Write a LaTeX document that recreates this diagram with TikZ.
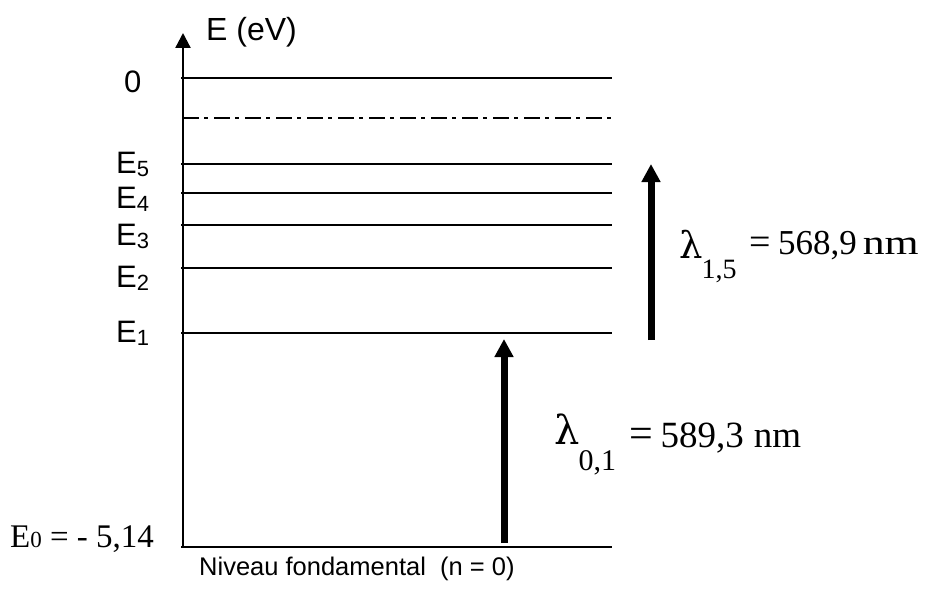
\documentclass[tikz,border=0pt]{standalone}
\usepackage{fontspec}
\setmainfont{Liberation Serif}
\newfontfamily\arialf{Liberation Sans}
\newfontfamily\lamf{DejaVu Serif}
\usetikzlibrary{arrows.meta}
\tikzset{
  level/.style={line width=2pt},
  axisline/.style={line width=2.3pt, -{Triangle[width=15pt,length=15pt]}},
  photon/.style={line width=7pt, -{Triangle[width=18pt,length=18pt]}},
  lbl/.style={anchor=base west, inner sep=0pt, font=\arialf\fontsize{31}{31}\selectfont},
  serif/.style={anchor=base west, inner sep=0pt},
}
\newcommand{\esub}[1]{\raisebox{-3pt}{\fontsize{22}{22}\selectfont #1}}
\begin{document}
\begin{tikzpicture}[x=1pt,y=-1pt]
\useasboundingbox (0,0) rectangle (926,599);
% axis
\coordinate (ax0) at (183,547);
\coordinate (ax1) at (183,33);
\draw[axisline] (ax0) -- (ax1);
% levels
\foreach \yy/\nm in {78/L0,164/L5,193/L4,225/L3,268/L2,333/L1,547/Lg}{
  \draw[level] (181,\yy) coordinate (\nm a) -- (612,\yy) coordinate (\nm b);
}
\draw[line width=2pt, dash pattern=on 16pt off 5pt on 4pt off 6pt] (183,118) coordinate (Lia) -- (612,118) coordinate (Lib);
% labels
\node[lbl, font=\arialf\fontsize{32}{32}\selectfont] (eev) at (206,41) {E (eV)};
\node[lbl] (z) at (124,93) {0};
\node[lbl] (e5) at (116,173) {E\esub{5}};
\node[lbl] (e4) at (116,208) {E\esub{4}};
\node[lbl] (e3) at (116,245) {E\esub{3}};
\node[lbl] (e2) at (116,287) {E\esub{2}};
\node[lbl] (e1) at (116,342) {E\esub{1}};
\node[serif, font=\fontsize{33}{33}\selectfont] (e0) at (10,547) {E{\fontsize{23}{23}\selectfont 0} = - 5,14};
\node[lbl, font=\arialf\fontsize{25.5}{26}\selectfont] (nf) at (199,575) {Niveau fondamental\ \ (n = 0)};
% transitions
\coordinate (a1s) at (504,543);
\coordinate (a1e) at (504,339);
\draw[photon] (a1s) -- (a1e);
\coordinate (a2s) at (651,340);
\coordinate (a2e) at (651,164);
\draw[photon] (a2s) -- (a2e);
\node[serif] (l15) at (679,254) {\raisebox{-4pt}{\lamf\fontsize{37}{37}\selectfont λ}\hspace{-1pt}\raisebox{-24pt}{\fontsize{28}{28}\selectfont 1,5}\hspace{13pt}{\fontsize{38}{38}\selectfont =}\hspace{7pt}{\fontsize{35}{35}\selectfont 568,9\hspace{6pt}\scalebox{1.25}[1]{nm}}};
\node[serif] (l01) at (554,447) {\raisebox{3pt}{\lamf\fontsize{40}{40}\selectfont λ}\hspace{-1pt}\raisebox{-23pt}{\fontsize{30}{30}\selectfont 0,1}\hspace{13pt}{\fontsize{42}{42}\selectfont =}\hspace{8pt}{\fontsize{37}{37}\selectfont 589,3\hspace{10pt}nm}};
\end{tikzpicture}
\end{document}
